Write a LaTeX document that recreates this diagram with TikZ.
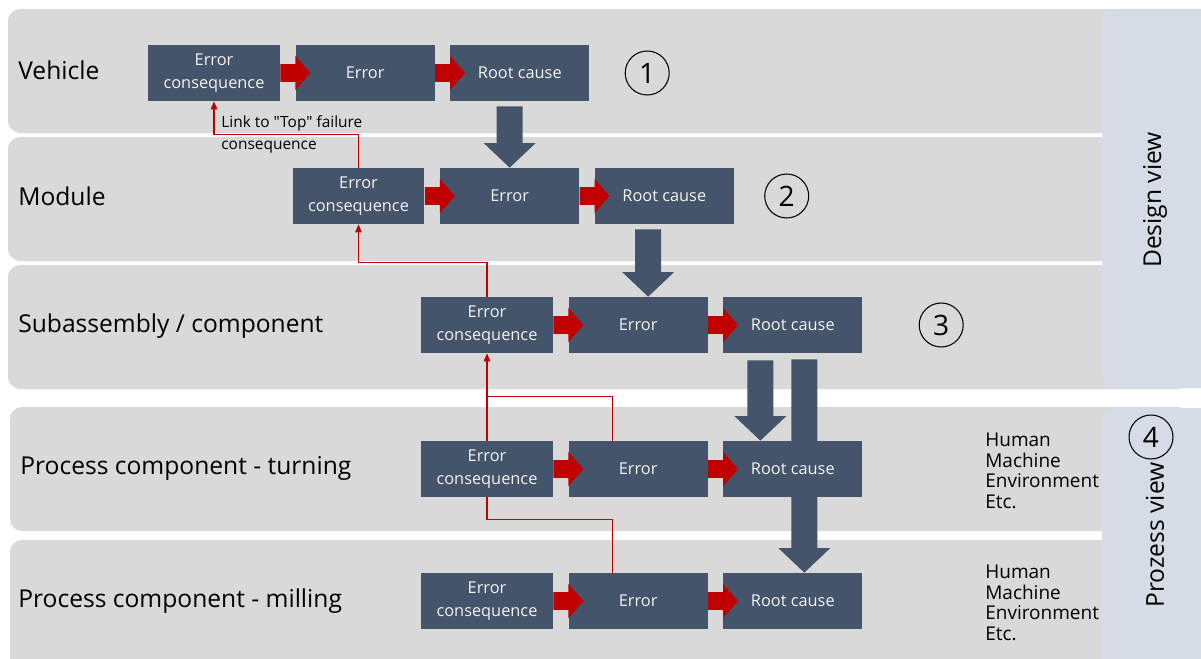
\documentclass[tikz,border=0pt]{standalone}
\usepackage{fontspec}
\setmainfont{Open Sans}
\newfontfamily\plainsans{Open Sans}
\usepackage{tikz}
\usetikzlibrary{arrows.meta,positioning,calc}

\definecolor{lanegray}{HTML}{D9D9D9}
\definecolor{viewblue}{HTML}{D6DCE5}
\definecolor{boxblue}{HTML}{44546A}
\definecolor{linkred}{HTML}{C00000}

\pgfdeclarelayer{back}
\pgfdeclarelayer{mid}
\pgfsetlayers{back,mid,main}

\begin{document}
\begin{tikzpicture}[
    x=0.02cm, y=-0.02cm,
    node distance=0.3cm,
    lane/.style={fill=lanegray,rounded corners=0.24cm},
    viewpanel/.style={fill=viewblue,rounded corners=0.24cm},
    lanelabel/.style={anchor=west,inner sep=0pt,font=\fontsize{14}{17}\selectfont},
    box/.style={rectangle,fill=boxblue,minimum width=2.78cm,minimum height=1.12cm,align=center,inner sep=0pt,text=white!95!black,font=\fontsize{9.3}{13}\selectfont},
    ecbox/.style={box,minimum width=2.64cm},
    numcirc/.style={circle,draw,line width=0.6pt,minimum size=0.88cm,inner sep=0pt,font=\fontsize{16}{18}\selectfont},
    factors/.style={anchor=west,align=left,inner sep=0pt,font=\fontsize{10.8}{11.7}\selectfont},
    linktext/.style={anchor=north west,align=left,inner sep=0pt,font=\plainsans\fontsize{8.8}{12.5}\selectfont},
    link/.style={draw=linkred,line width=0.85pt},
    linkarrow/.style={link,-{Triangle[length=4.5pt,width=3.6pt]}},
    flow/.style={fill=linkred,to path={let \p1=(\tikztostart),\p2=(\tikztotarget) in
        (\x1,\y1-5.1pt) -- (\x2-8.5pt,\y1-5.1pt) -- (\x2-8.5pt,\y1-9.7pt) -- (\x2,\y1)
        -- (\x2-8.5pt,\y1+9.7pt) -- (\x2-8.5pt,\y1+5.1pt) -- (\x1,\y1+5.1pt) -- cycle}},
    bigdown/.style={fill=boxblue,to path={let \p1=(\tikztostart),\p2=(\tikztotarget) in
        (\x2-7.4pt,\y1) -- (\x2+7.4pt,\y1) -- (\x2+7.4pt,\y2+14pt) -- (\x2+14.8pt,\y2+14pt)
        -- (\x2,\y2) -- (\x2-14.8pt,\y2+14pt) -- (\x2-7.4pt,\y2+14pt) -- cycle}}
]
    \useasboundingbox (0,0) rectangle (1201,659);
    \clip (0,0) rectangle (1201,659);

    % Lanes
    \begin{pgfonlayer}{back}
    \fill[lane] (8,9) rectangle (1190,133);
    \fill[lane] (8,137) rectangle (1190,261);
    \fill[lane] (8,265) rectangle (1190,389);
    \fill[lane] (10,407) rectangle (1190,531);
    \fill[lane] (10,540) rectangle (1190,690);
    \fill[viewpanel] (1102,9) rectangle (1220,388);
    \fill[viewpanel] (1102,408) rectangle (1220,690);
    \end{pgfonlayer}

    \node[lanelabel] (vehicle) at (18,70) {Vehicle};
    \node[lanelabel] (module) at (18,196) {Module};
    \node[lanelabel] (subass) at (18,326) {Subassembly / component};
    \node[lanelabel] (turning) at (20,468) {Process component - turning};
    \node[lanelabel] (milling) at (18,601) {Process component - milling};

    % Nodes
    \node[ecbox] (ec1) at (214,73) {Error\\consequence};
    \node[box,right=of ec1] (err1) {Error};
    \node[box,right=of err1] (rc1) {Root cause};
    \node[numcirc,right=0.7cm of rc1] (n1) {1};

    \node[ecbox] (ec2) at (358.5,196) {Error\\consequence};
    \node[box,right=of ec2] (err2) {Error};
    \node[box,right=of err2] (rc2) {Root cause};
    \node[numcirc,right=0.6cm of rc2] (n2) {2};

    \node[ecbox] (ec3) at (487,325) {Error\\consequence};
    \node[box,right=of ec3] (err3) {Error};
    \node[box,right=of err3] (rc3) {Root cause};
    \node[numcirc,right=1.12cm of rc3] (n3) {3};

    \node[ecbox] (ec4) at (487,469) {Error\\consequence};
    \node[box,right=of ec4] (err4) {Error};
    \node[box,right=of err4] (rc4) {Root cause};

    \node[ecbox] (ec5) at (487,601) {Error\\consequence};
    \node[box,right=of ec5] (err5) {Error};
    \node[box,right=of err5] (rc5) {Root cause};

    \node[factors] (hm4) at (985,471) {Human\\Machine\\Environment\\Etc.};
    \node[factors] (hm5) at (985,603) {Human\\Machine\\Environment\\Etc.};

    \node[lanelabel,anchor=center,rotate=90] (design) at (1155,200) {Design view};
    \node[lanelabel,anchor=center,rotate=90] (prozess) at (1155,535) {Prozess view};
    \node[numcirc] (n4) at (1151,437) {4};

    % Big arrows (behind boxes)
    \begin{pgfonlayer}{mid}
    \path[bigdown] ([yshift=-0.1cm]rc1.south -| err2.north) to (err2.north);
    \path[bigdown] ([yshift=-0.1cm]rc2.south -| err3.north) to ([xshift=0.2cm]err3.north);
    \path[bigdown] ([yshift=-0.14cm]rc3.south) to ([xshift=-0.65cm]rc4.north);
    \path[bigdown] ([yshift=-0.12cm]rc3.south) to ([xshift=0.23cm]rc5.north);
    \end{pgfonlayer}

    % Red arrows
    \path[flow] (ec1.east) to ([xshift=0.3cm]err1.west);
    \path[flow] (err1.east) to ([xshift=0.3cm]rc1.west);
    \path[flow] (ec2.east) to ([xshift=0.3cm]err2.west);
    \path[flow] (err2.east) to ([xshift=0.3cm]rc2.west);
    \path[flow] (ec3.east) to ([xshift=0.3cm]err3.west);
    \path[flow] (err3.east) to ([xshift=0.3cm]rc3.west);
    \path[flow] (ec4.east) to ([xshift=0.3cm]err4.west);
    \path[flow] (err4.east) to ([xshift=0.3cm]rc4.west);
    \path[flow] (ec5.east) to ([xshift=0.3cm]err5.west);
    \path[flow] (err5.east) to ([xshift=0.3cm]rc5.west);

    % Links
    \draw[linkarrow] (ec2.north) -- ++(0,-33) -| (ec1.south);
    \draw[linkarrow] (ec3.north) -- ++(0,-34) -| (ec2.south);
    \draw[linkarrow] (ec4.north) -- (ec3.south);
    \draw[link] ([xshift=0.88cm]err4.north west) |- ([yshift=0.88cm]ec4.north);
    \draw[link] ([xshift=0.88cm]err5.north west) |- ([yshift=-0.44cm]ec4.south) -- (ec4.south);

    % Labels
    \node[linktext] (linklbl) at ([xshift=0.14cm,yshift=-0.28cm]ec1.south) {Link to "Top" failure\\consequence};
\end{tikzpicture}
\end{document}
